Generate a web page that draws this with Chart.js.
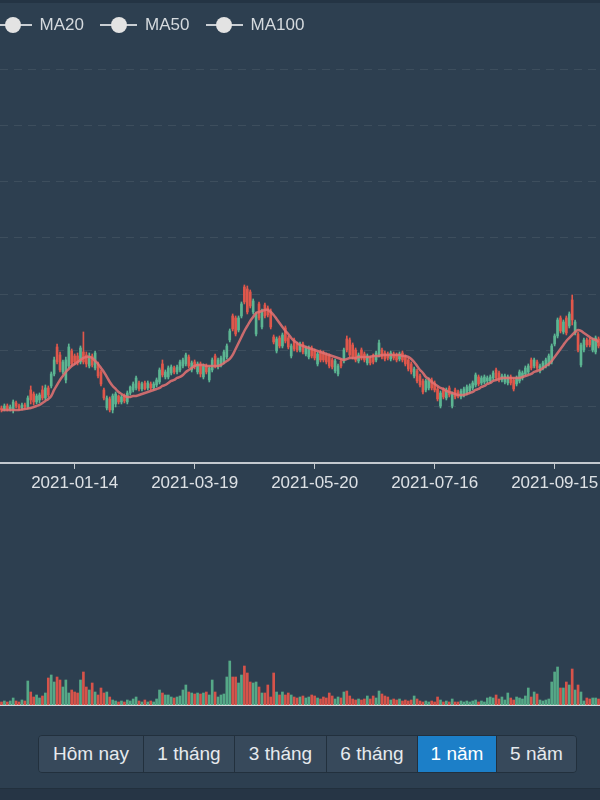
<!DOCTYPE html>
<html lang="vi">
<head>
<meta charset="UTF-8">
<script src="https://cdn.jsdelivr.net/npm/chart.js@4"></script>
<title>Biểu đồ giá</title>
<style>
    body { margin: 0; width: 600px; height: 800px; overflow: hidden; position: relative; background: #2d3f50; font-family: "Liberation Sans", Arial, sans-serif; }
    #topbar { position: absolute; left: 0; top: 0; width: 600px; height: 3px; background: #243444; }
    #bottombar { position: absolute; left: 0; top: 788px; width: 600px; height: 12px; background: #263545; border-top: 1px solid #22303d; }
    #legend { position: absolute; left: -5.5px; top: 14px; display: flex; z-index: 2; }
    .item { width: 105.5px; display: flex; align-items: center; flex: none; }
    .sym { position: relative; width: 37px; height: 22px; flex: none; }
    .sym::before { content: ""; position: absolute; left: 0; right: 0; top: 10px; height: 2px; background: #c9ced3; }
    .sym::after { content: ""; position: absolute; left: 10.5px; top: 3px; width: 16px; height: 16px; border-radius: 50%; background: #e3e3e3; }
    .lbl { margin-left: 8px; color: #d5dade; font-size: 17px; }
    #price { position: absolute; left: 0; top: 0; }
    #volume { position: absolute; left: 0; top: 505px; }
    #range { position: absolute; left: 38px; top: 735px; display: flex; border: 1px solid #22303d; border-radius: 4px; overflow: hidden; }
    .btn { height: 36px; line-height: 36px; text-align: center; color: #e6eaee; font-size: 19px; background: #37495b; border-left: 1px solid #22303d; box-sizing: border-box; }
    .btn:first-child { border-left: none; }
    .btn.active { background: #1c7fc8; color: #fff; }
</style>
</head>
<body>
<div id="topbar"></div>
<div id="legend">
    <div class="item"><span class="sym"></span><span class="lbl">MA20</span></div>
    <div class="item"><span class="sym"></span><span class="lbl">MA50</span></div>
    <div class="item"><span class="sym"></span><span class="lbl">MA100</span></div>
</div>
<canvas id="price" width="600" height="500"></canvas>
<canvas id="volume" width="600" height="202"></canvas>
<div id="range">
    <div class="btn" style="width:104px">Hôm nay</div>
    <div class="btn" style="width:91px">1 tháng</div>
    <div class="btn" style="width:92px">3 tháng</div>
    <div class="btn" style="width:91px">6 tháng</div>
    <div class="btn active" style="width:79px">1 năm</div>
    <div class="btn" style="width:80px">5 năm</div>
</div>
<div id="bottombar"></div>

<script>
// giá tính theo 100 đồng
const open = [
    280, 279, 282, 279, 278, 285, 282, 280, 283, 281,
    298, 294, 286, 288, 298, 290, 300, 302, 314, 341,
    333, 316, 308, 322, 337, 332, 332, 326, 336, 333,
    322, 332, 320, 324, 316, 298, 280, 289, 278, 284,
    292, 286, 292, 286, 295, 298, 300, 305, 299, 305,
    300, 304, 300, 303, 306, 324, 311, 311, 315, 320,
    316, 318, 322, 324, 331, 318, 326, 316, 324, 311,
    322, 308, 318, 332, 321, 323, 326, 331, 348, 372,
    370, 358, 372, 401, 399, 396, 376, 354, 384, 361,
    383, 380, 377, 351, 337, 350, 342, 360, 350, 332,
    348, 344, 338, 344, 334, 331, 340, 337, 324, 336,
    335, 333, 332, 328, 317, 314, 327, 327, 349, 348,
    343, 338, 327, 338, 334, 325, 330, 332, 328, 333,
    338, 335, 334, 329, 334, 333, 329, 335, 331, 328,
    324, 312, 317, 312, 307, 298, 300, 308, 305, 299,
    282, 298, 290, 300, 282, 298, 296, 291, 293, 295,
    297, 300, 303, 311, 305, 306, 307, 307, 310, 318,
    315, 308, 306, 305, 311, 308, 304, 307, 310, 314,
    316, 328, 322, 326, 317, 320, 322, 324, 326, 344,
    352, 370, 356, 370, 362, 388, 355, 354, 323, 338,
    348, 348, 338, 336, 349
];
const close = [
    278, 282, 279, 281, 286, 282, 280, 283, 281, 290,
    288, 286, 292, 293, 290, 300, 293, 314, 328, 326,
    318, 326, 328, 341, 324, 326, 325, 340, 326, 324,
    332, 323, 335, 312, 304, 290, 290, 278, 292, 294,
    286, 291, 287, 295, 301, 304, 310, 299, 304, 299,
    305, 300, 304, 308, 318, 313, 316, 320, 321, 316,
    321, 326, 328, 333, 322, 325, 321, 324, 314, 322,
    316, 320, 328, 322, 328, 330, 336, 342, 357, 359,
    354, 370, 384, 386, 376, 382, 387, 374, 370, 377,
    372, 373, 361, 346, 349, 342, 353, 347, 341, 342,
    339, 338, 344, 336, 340, 340, 332, 330, 334, 328,
    328, 326, 322, 321, 327, 322, 322, 338, 338, 333,
    331, 328, 333, 330, 328, 332, 325, 326, 335, 345,
    331, 329, 330, 335, 330, 328, 334, 328, 324, 319,
    316, 319, 307, 303, 296, 307, 308, 300, 298, 289,
    295, 291, 298, 293, 294, 291, 292, 297, 299, 301,
    302, 305, 313, 304, 310, 311, 310, 311, 315, 310,
    308, 312, 312, 311, 305, 299, 310, 316, 315, 320,
    322, 320, 328, 320, 322, 325, 328, 332, 342, 352,
    368, 357, 366, 355, 374, 368, 366, 338, 343, 348,
    343, 343, 348, 350, 342
];
const high = [
    282, 284, 284, 283, 288, 287, 284, 285, 285, 292,
    302, 296, 294, 295, 302, 303, 302, 316, 331, 344,
    336, 328, 331, 344, 339, 334, 335, 342, 356, 336,
    335, 334, 337, 326, 318, 300, 292, 291, 294, 296,
    293, 293, 294, 297, 302, 306, 312, 307, 306, 307,
    307, 306, 306, 310, 320, 328, 318, 322, 323, 322,
    323, 328, 330, 335, 333, 327, 328, 326, 326, 324,
    324, 322, 330, 334, 330, 332, 338, 344, 359, 374,
    372, 372, 386, 403, 402, 398, 389, 376, 386, 379,
    385, 382, 379, 353, 351, 352, 355, 362, 352, 344,
    350, 346, 346, 346, 342, 342, 342, 339, 336, 338,
    337, 335, 334, 330, 329, 324, 329, 340, 352, 350,
    345, 340, 335, 340, 336, 334, 332, 334, 337, 348,
    340, 337, 336, 337, 336, 335, 336, 337, 333, 330,
    326, 321, 319, 314, 309, 309, 310, 310, 307, 301,
    297, 300, 300, 302, 296, 300, 298, 299, 301, 303,
    304, 307, 315, 313, 312, 313, 312, 313, 317, 320,
    317, 314, 314, 313, 313, 310, 312, 318, 317, 322,
    324, 330, 330, 328, 324, 327, 330, 334, 344, 354,
    370, 372, 368, 372, 376, 393, 368, 356, 345, 350,
    350, 350, 350, 352, 351
];
const low = [
    276, 277, 277, 277, 275, 280, 278, 278, 279, 279,
    284, 283, 284, 285, 288, 288, 291, 300, 312, 324,
    316, 314, 305, 320, 322, 323, 323, 324, 324, 321,
    320, 321, 318, 310, 302, 288, 278, 276, 275, 281,
    284, 284, 285, 284, 293, 296, 298, 297, 297, 298,
    298, 298, 298, 301, 304, 311, 309, 309, 313, 314,
    314, 316, 320, 322, 320, 316, 319, 314, 311, 309,
    314, 306, 316, 320, 319, 321, 324, 329, 346, 357,
    352, 356, 370, 384, 374, 380, 374, 352, 368, 359,
    370, 371, 359, 344, 335, 340, 340, 345, 339, 330,
    337, 336, 336, 334, 332, 329, 330, 328, 322, 326,
    326, 324, 320, 319, 315, 312, 320, 325, 336, 331,
    329, 326, 325, 328, 326, 323, 323, 324, 326, 331,
    329, 327, 328, 327, 328, 326, 327, 326, 322, 317,
    314, 310, 305, 301, 294, 296, 298, 298, 296, 287,
    280, 289, 288, 291, 280, 289, 290, 289, 291, 293,
    295, 298, 301, 302, 303, 304, 305, 305, 308, 308,
    306, 306, 304, 303, 303, 297, 302, 305, 308, 312,
    314, 318, 320, 318, 315, 318, 320, 322, 324, 342,
    350, 355, 354, 353, 360, 363, 353, 336, 321, 336,
    341, 341, 336, 334, 340
];
const ma20 = [
    278, 278, 278, 278, 278, 278, 278, 278.5, 279, 279.5,
    280, 281, 282, 283, 285, 287, 289, 292, 298, 303,
    308, 312, 316, 319, 322, 324, 326, 328, 330, 331,
    331, 330, 327, 324, 320, 316, 311, 306, 302, 299,
    296, 294, 292, 291, 291, 292, 292, 293, 294, 295,
    296, 297, 298, 299, 300, 302, 303, 305, 307, 308,
    310, 311, 313, 316, 318, 320, 322, 323, 323, 323,
    322, 322, 322, 322, 322, 323, 325, 327, 329, 333,
    339, 345, 351, 357, 362, 367, 371, 375, 376, 377,
    378, 378, 376, 373, 369, 365, 361, 357, 354, 350,
    347, 345, 343, 342, 341, 340, 339, 338, 337, 336,
    335, 334, 333, 332, 331, 330, 329, 328, 329, 330,
    330, 330, 331, 331, 331, 331, 331, 332, 332, 332,
    333, 333, 333, 333, 333, 333, 333, 332, 332, 331,
    329, 326, 322, 318, 315, 311, 309, 306, 304, 302,
    300, 299, 297, 296, 295, 294, 293, 293, 293, 294,
    295, 296, 298, 299, 301, 302, 304, 305, 307, 308,
    309, 310, 310, 310, 310, 310, 310, 310, 311, 312,
    313, 314, 316, 317, 318, 320, 322, 324, 327, 331,
    335, 339, 343, 347, 350, 353, 356, 358, 357, 355,
    353, 351, 349, 348, 346
];
// khối lượng, đơn vị 10.000 cp
const volume = [
    3, 4, 3, 4, 7, 4, 3, 5, 4, 24,
    13, 8, 10, 7, 9, 12, 27, 30, 23, 28,
    25, 18, 25, 12, 15, 13, 12, 25, 33, 18,
    15, 22, 13, 10, 17, 12, 13, 8, 5, 4,
    3, 4, 3, 5, 4, 6, 8, 4, 3, 5,
    3, 4, 3, 6, 15, 12, 10, 10, 8, 7,
    8, 9, 15, 20, 13, 12, 11, 12, 11, 12,
    13, 10, 25, 13, 8, 10, 11, 28, 44, 28,
    28, 22, 30, 39, 32, 23, 22, 23, 18, 12,
    12, 20, 8, 32, 13, 10, 13, 10, 12, 10,
    8, 7, 8, 9, 7, 8, 10, 9, 7, 6,
    8, 7, 12, 9, 6, 8, 7, 13, 14, 9,
    6, 5, 6, 5, 6, 9, 6, 9, 7, 14,
    11, 9, 8, 5, 6, 5, 6, 4, 5, 4,
    5, 9, 6, 4, 3, 4, 3, 4, 3, 8,
    5, 3, 4, 3, 6, 3, 3, 4, 3, 4,
    3, 4, 5, 3, 4, 3, 7, 8, 7, 10,
    6, 8, 5, 12, 7, 5, 8, 7, 6, 9,
    17, 8, 13, 11, 5, 4, 5, 6, 23, 33,
    38, 17, 17, 23, 20, 36, 15, 20, 13, 4,
    7, 6, 7, 7, 6
];
const tickLabels = ['2021-01-14', '2021-03-19', '2021-05-20', '2021-07-16', '2021-09-15'];
const holidays = ['2021-01-01', '2021-02-10', '2021-02-11', '2021-02-12', '2021-02-15', '2021-02-16',
    '2021-04-21', '2021-04-30', '2021-05-03', '2021-09-02', '2021-09-03'];

// ngày giao dịch, bắt đầu 2020-12-09
const dates = [];
for (let d = new Date(Date.UTC(2020, 11, 9)); dates.length < close.length; d.setUTCDate(d.getUTCDate() + 1)) {
    const s = d.toISOString().slice(0, 10);
    const wd = d.getUTCDay();
    if (wd !== 0 && wd !== 6 && !holidays.includes(s)) dates.push(s);
}

const upColor = '#5cb592';
const downColor = '#e0574b';
const candleColors = open.map((o, i) => close[i] >= o ? upColor : downColor);
const volColors = open.map((o, i) => close[i] >= o ? '#55a887' : '#d6534a');

Chart.defaults.font.family = '"Liberation Sans", Arial, sans-serif';

new Chart(document.getElementById('price'), {
    type: 'bar',
    data: {
        labels: dates,
        datasets: [
            {
                type: 'line',
                label: 'MA20',
                data: ma20,
                borderColor: 'rgba(224,114,114,0.88)',
                borderWidth: 2.5,
                pointRadius: 0,
                tension: 0.35,
                order: 0
            },
            {
                label: 'Thân nến',
                data: open.map((o, i) => [o, close[i]]),
                backgroundColor: candleColors,
                barThickness: 2,
                grouped: false,
                order: 1
            },
            {
                label: 'Bóng nến',
                data: low.map((l, i) => [l, high[i]]),
                backgroundColor: candleColors,
                barThickness: 1,
                grouped: false,
                order: 2
            }
        ]
    },
    options: {
        responsive: false,
        animation: false,
        layout: { padding: { top: 13, bottom: 3, left: 0, right: 0 } },
        plugins: { legend: { display: false }, tooltip: { enabled: false } },
        scales: {
            x: {
                offset: true,
                grid: { display: true, drawOnChartArea: false, drawTicks: true, tickLength: 6, color: '#c3c9cf', offset: false },
                border: { display: true, color: '#c3c9cf', width: 2 },
                ticks: {
                    autoSkip: false,
                    maxRotation: 0,
                    padding: 0,
                    color: '#dde1e5',
                    font: { size: 17, lineHeight: 1.65 },
                    callback: (v, i) => tickLabels.includes(dates[i]) ? dates[i] : null
                }
            },
            y: {
                min: 225,
                max: 675,
                ticks: { display: false, stepSize: 56.25 },
                grid: {
                    drawTicks: false,
                    color: ctx => ctx.tick && ctx.tick.value >= 675 ? 'rgba(0,0,0,0)' : 'rgba(255,255,255,0.08)'
                },
                border: { display: false, dash: [8, 6] }
            }
        }
    }
});

new Chart(document.getElementById('volume'), {
    type: 'bar',
    data: {
        labels: dates,
        datasets: [{
            label: 'Khối lượng',
            data: volume,
            backgroundColor: volColors,
            barThickness: 2
        }]
    },
    options: {
        responsive: false,
        animation: false,
        layout: { padding: { top: 0, bottom: 2, left: 0, right: 0 } },
        plugins: { legend: { display: false }, tooltip: { enabled: false } },
        scales: {
            x: {
                grid: { display: false, drawTicks: false },
                ticks: { display: false },
                border: { display: true, color: '#d5dade', width: 2 }
            },
            y: { display: false, min: 0, max: 200 }
        }
    }
});
</script>
</body>
</html>
